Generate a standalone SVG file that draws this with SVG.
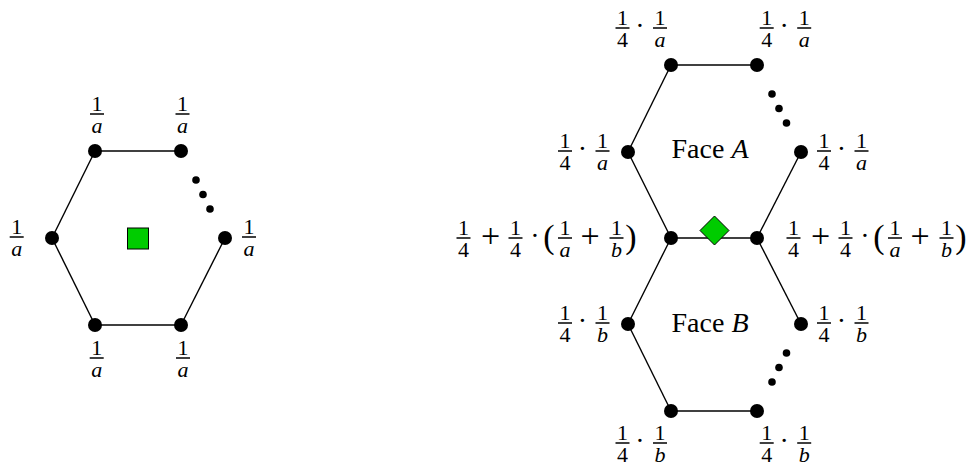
<svg xmlns="http://www.w3.org/2000/svg" width="973" height="470" viewBox="0 0 973 470">
<style>
text{font-family:"Liberation Serif","Times New Roman",serif;fill:#000;text-anchor:middle}
.s{font-size:22px}
.i{font-style:italic}
.m{font-size:28px}
.p{font-size:34px}
.par{font-size:34px}
.bar{stroke:#000;stroke-width:1.5}
.e{stroke:#000;stroke-width:1.4;fill:none}
.n{fill:#000}
.face{font-size:28px}
</style>
<defs>
<g id="f14"><line class="bar" x1="-7" y1="0" x2="7" y2="0"/><text class="s" x="0" y="-3.3">1</text><text class="s" x="0" y="18.5">4</text></g>
<g id="f1a"><line class="bar" x1="-7" y1="0" x2="7" y2="0"/><text class="s" x="0" y="-3.3">1</text><text class="s i" x="0" y="18.5">a</text></g>
<g id="f1b"><line class="bar" x1="-7" y1="0" x2="7" y2="0"/><text class="s" x="0" y="-3.3">1</text><text class="s i" x="0" y="18.5">b</text></g>
<g id="qa"><use href="#f14" x="0"/><text class="m" x="17.5" y="7">·</text><use href="#f1a" x="37.5"/></g>
<g id="qb"><use href="#f14" x="0"/><text class="m" x="17.5" y="7">·</text><use href="#f1b" x="37.5"/></g>
<g id="long"><use href="#f14" x="0"/><text class="p" x="27" y="8.6">+</text><use href="#f14" x="52"/><text class="m" x="71.5" y="7">·</text><text class="par" x="85.5" y="10">(</text><use href="#f1a" x="101.5"/><text class="p" x="126.5" y="8.6">+</text><use href="#f1b" x="153"/><text class="par" x="167.5" y="10">)</text></g>
</defs>

<g id="connectors">
<line class="e" x1="95" y1="151" x2="181" y2="151"/>
<line class="e" x1="95" y1="151" x2="52" y2="238"/>
<line class="e" x1="52" y1="238" x2="95" y2="325"/>
<line class="e" x1="95" y1="325" x2="181" y2="325"/>
<line class="e" x1="181" y1="325" x2="225" y2="238"/>
<line class="e" x1="671" y1="65" x2="757" y2="65"/>
<line class="e" x1="671" y1="65" x2="628" y2="152"/>
<line class="e" x1="628" y1="152" x2="671" y2="238"/>
<line class="e" x1="671" y1="238" x2="757" y2="238"/>
<line class="e" x1="757" y1="238" x2="801" y2="152"/>
<line class="e" x1="671" y1="238" x2="628" y2="324"/>
<line class="e" x1="628" y1="324" x2="671" y2="411"/>
<line class="e" x1="671" y1="411" x2="757" y2="411"/>
<line class="e" x1="757" y1="238" x2="801" y2="324"/>
</g>

<g id="ellipses">
<circle class="n" cx="196" cy="180" r="3.8"/><circle class="n" cx="203" cy="194.5" r="3.8"/><circle class="n" cx="210" cy="209" r="3.8"/>
<circle class="n" cx="772" cy="94" r="3.8"/><circle class="n" cx="779" cy="108.5" r="3.8"/><circle class="n" cx="786.5" cy="123" r="3.8"/>
<circle class="n" cx="786.5" cy="353" r="3.8"/><circle class="n" cx="779" cy="367.5" r="3.8"/><circle class="n" cx="772" cy="382" r="3.8"/>
</g>

<g id="L1"><circle class="n" cx="95" cy="151" r="7"/><use href="#f1a" x="97" y="114"/></g>
<g id="L2"><circle class="n" cx="181" cy="151" r="7"/><use href="#f1a" x="182.5" y="114"/></g>
<g id="L3"><circle class="n" cx="52" cy="238" r="7"/><use href="#f1a" x="16.7" y="237"/></g>
<g id="L4"><circle class="n" cx="225" cy="238" r="7"/><use href="#f1a" x="249" y="237"/></g>
<g id="L5"><circle class="n" cx="95" cy="325" r="7"/><use href="#f1a" x="96.7" y="358"/></g>
<g id="L6"><circle class="n" cx="181" cy="325" r="7"/><use href="#f1a" x="183" y="358"/></g>
<g id="square"><rect x="127.5" y="228" width="21" height="21" fill="#00cc00" stroke="#000" stroke-width="1"/></g>

<g id="R1"><circle class="n" cx="671" cy="65" r="7"/><use href="#qa" x="622.5" y="28"/></g>
<g id="R2"><circle class="n" cx="757" cy="65" r="7"/><use href="#qa" x="766.7" y="28"/></g>
<g id="R3"><circle class="n" cx="628" cy="152" r="7"/><use href="#qa" x="565" y="151"/></g>
<g id="R4"><circle class="n" cx="801" cy="152" r="7"/><use href="#qa" x="824" y="151"/></g>
<g id="R5"><circle class="n" cx="671" cy="238" r="7"/><use href="#long" x="463.5" y="238"/></g>
<g id="R6"><circle class="n" cx="757" cy="238" r="7"/><use href="#long" x="793.5" y="238"/></g>
<g id="R7"><circle class="n" cx="628" cy="324" r="7"/><use href="#qb" x="565" y="323"/></g>
<g id="R8"><circle class="n" cx="801" cy="324" r="7"/><use href="#qb" x="824" y="323"/></g>
<g id="R9"><circle class="n" cx="671" cy="411" r="7"/><use href="#qb" x="622.5" y="443"/></g>
<g id="R10"><circle class="n" cx="757" cy="411" r="7"/><use href="#qb" x="766.7" y="443"/></g>
<g id="diamond"><polygon points="714.5,216 729,230.5 714.5,245 700,230.5" fill="#00cc00" stroke="#000" stroke-width="1"/></g>

<g id="faceA"><text class="face" x="710" y="158">Face <tspan class="i">A</tspan></text></g>
<g id="faceB"><text class="face" x="710" y="332">Face <tspan class="i">B</tspan></text></g>
</svg>
